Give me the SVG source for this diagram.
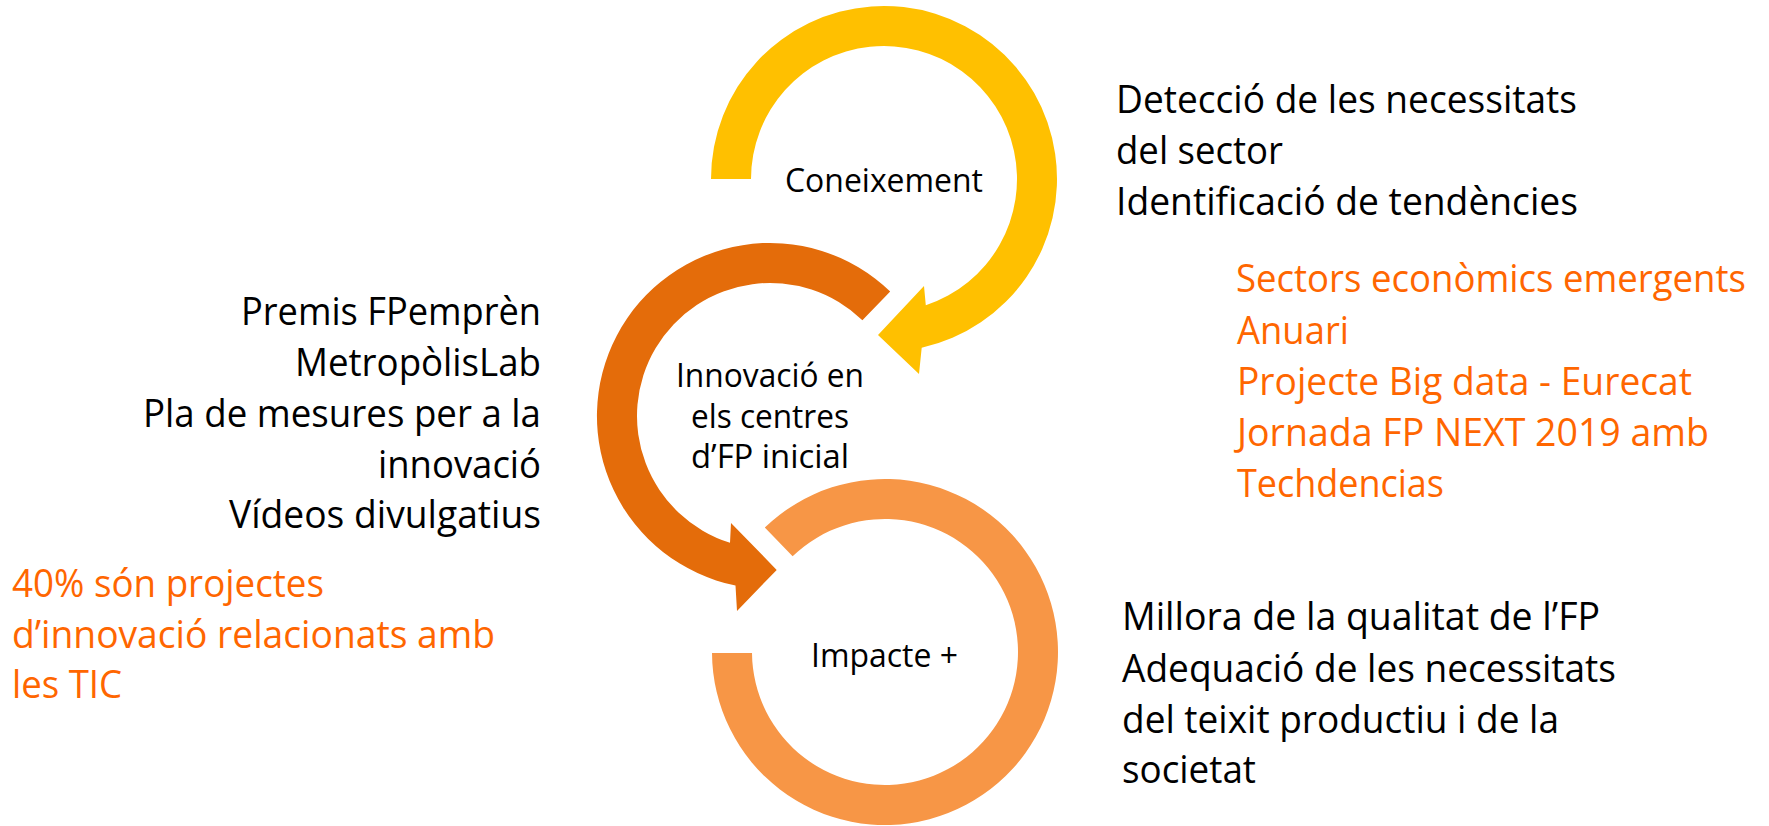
<svg xmlns="http://www.w3.org/2000/svg" width="1769" height="826" viewBox="0 0 1769 826">
<style>
text{font-family:"Open Sans","Noto Sans","Liberation Sans",sans-serif;}
.big{font-size:38.5px;fill:#000000;}
.or{font-size:38.5px;fill:#FF6600;}
.lbl{font-size:32px;fill:#000000;}
.yel{fill:#FFC000;}
.dor{fill:#E46C0A;}
.lor{fill:#F79646;}
</style>
<rect width="1769" height="826" fill="#FFFFFF"/>
<g id="connectors"></g>
<g id="node-coneixement">
<path class="yel" d="M 711,179 A 173,173 0 1,1 921.7,347.8 L 919,374 L 878,335 L 924,286 L 925.8,305.3 A 133,133 0 1,0 751,179 Z"/>
<text class="lbl" x="785" y="192" textLength="198" lengthAdjust="spacingAndGlyphs">Coneixement</text>
</g>
<g id="node-innovacio">
<path class="dor" d="M 890.2,291.6 A 173,173 0 1,0 735.5,585.5 L 737,611 L 776.7,569.9 L 731,523 L 730,542.8 A 133,133 0 1,1 862.4,320.3 Z"/>
<text class="lbl" x="676" y="387" textLength="188" lengthAdjust="spacingAndGlyphs">Innovació en</text>
<text class="lbl" x="691" y="428" textLength="158" lengthAdjust="spacingAndGlyphs">els centres</text>
<text class="lbl" x="691" y="468" textLength="158" lengthAdjust="spacingAndGlyphs">d’FP inicial</text>
</g>
<g id="node-impacte">
<path class="lor" d="M 764.8,527.6 A 173,173 0 1,1 712,653 L 752,653 A 133,133 0 1,0 792.6,556.3 Z"/>
<text class="lbl" x="811" y="667" textLength="147" lengthAdjust="spacingAndGlyphs">Impacte +</text>
</g>
<g id="text-coneixement">
<text class="big" x="1116" y="113" textLength="461" lengthAdjust="spacingAndGlyphs">Detecció de les necessitats</text>
<text class="big" x="1116" y="164" textLength="167" lengthAdjust="spacingAndGlyphs">del sector</text>
<text class="big" x="1116" y="215" textLength="462" lengthAdjust="spacingAndGlyphs">Identificació de tendències</text>
</g>
<g id="text-coneixement-exemples">
<text class="or" x="1236" y="292" font-size="36" textLength="510" lengthAdjust="spacingAndGlyphs">Sectors econòmics emergents</text>
<text class="or" x="1237" y="344" textLength="112" lengthAdjust="spacingAndGlyphs">Anuari</text>
<text class="or" x="1237" y="395" textLength="455" lengthAdjust="spacingAndGlyphs">Projecte Big data - Eurecat</text>
<text class="or" x="1237" y="446" textLength="472" lengthAdjust="spacingAndGlyphs">Jornada FP NEXT 2019 amb</text>
<text class="or" x="1237" y="497" textLength="207" lengthAdjust="spacingAndGlyphs">Techdencias</text>
</g>
<g id="text-innovacio">
<text class="big" x="241" y="325" textLength="300" lengthAdjust="spacingAndGlyphs">Premis FPemprèn</text>
<text class="big" x="295" y="376" textLength="246" lengthAdjust="spacingAndGlyphs">MetropòlisLab</text>
<text class="big" x="143" y="427" textLength="398" lengthAdjust="spacingAndGlyphs">Pla de mesures per a la</text>
<text class="big" x="378" y="478" textLength="163" lengthAdjust="spacingAndGlyphs">innovació</text>
<text class="big" x="229" y="528" textLength="312" lengthAdjust="spacingAndGlyphs">Vídeos divulgatius</text>
</g>
<g id="text-innovacio-dada">
<text class="or" x="12" y="597" textLength="312" lengthAdjust="spacingAndGlyphs">40% són projectes</text>
<text class="or" x="12" y="648" textLength="483" lengthAdjust="spacingAndGlyphs">d’innovació relacionats amb</text>
<text class="or" x="12" y="698" textLength="110" lengthAdjust="spacingAndGlyphs">les TIC</text>
</g>
<g id="text-impacte">
<text class="big" x="1122" y="630" textLength="478" lengthAdjust="spacingAndGlyphs">Millora de la qualitat de l’FP</text>
<text class="big" x="1122" y="682" textLength="494" lengthAdjust="spacingAndGlyphs">Adequació de les necessitats</text>
<text class="big" x="1122" y="733" textLength="437" lengthAdjust="spacingAndGlyphs">del teixit productiu i de la</text>
<text class="big" x="1122" y="783" textLength="134" lengthAdjust="spacingAndGlyphs">societat</text>
</g>
</svg>
